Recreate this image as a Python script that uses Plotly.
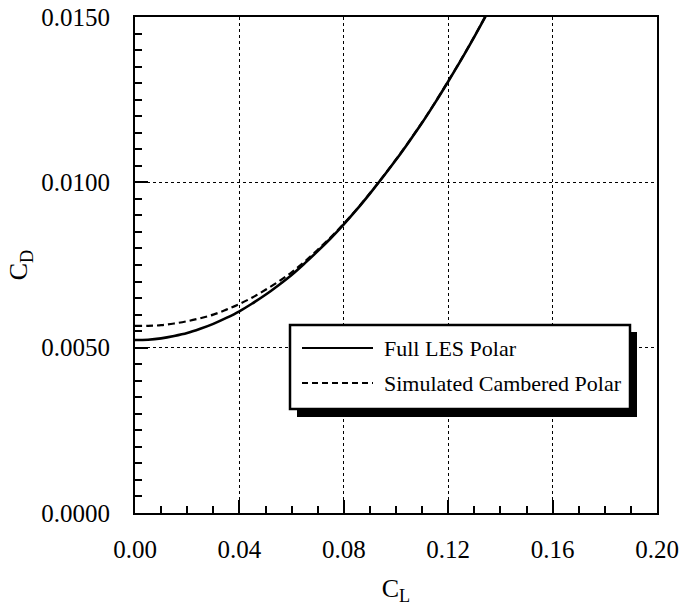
import plotly.graph_objects as go

# ---- data ----
cl_full = [0.000, 0.005, 0.010, 0.015, 0.020, 0.025, 0.030, 0.035, 0.040, 0.045, 0.050, 0.055,
           0.060, 0.065, 0.070, 0.075, 0.080, 0.085, 0.090, 0.095, 0.100, 0.105, 0.110, 0.115,
           0.120, 0.125, 0.130, 0.135]
cd_full = [0.00523, 0.00524, 0.00528, 0.00535, 0.00544, 0.00557, 0.00572, 0.00590, 0.00610,
           0.00634, 0.00660, 0.00689, 0.00720, 0.00755, 0.00792, 0.00831, 0.00873, 0.00918,
           0.00966, 0.01016, 0.01068, 0.01123, 0.01180, 0.01241, 0.01305, 0.01371, 0.01440,
           0.01512]

cl_sim = [0.000, 0.005, 0.010, 0.015, 0.020, 0.025, 0.030, 0.035, 0.040, 0.045, 0.050, 0.055,
          0.060, 0.065, 0.070, 0.075, 0.080, 0.085, 0.090, 0.095, 0.100, 0.105, 0.110, 0.115,
          0.120, 0.125, 0.130, 0.135]
cd_sim = [0.00566, 0.00566, 0.00568, 0.00573, 0.00580, 0.00589, 0.00600, 0.00615, 0.00632,
          0.00652, 0.00675, 0.00700, 0.00728, 0.00760, 0.00796, 0.00834, 0.00875, 0.00919,
          0.00967, 0.01017, 0.01069, 0.01124, 0.01181, 0.01242, 0.01306, 0.01372, 0.01441,
          0.01513]

x_ticks = [0.00, 0.04, 0.08, 0.12, 0.16, 0.20]
x_labels = ["0.00", "0.04", "0.08", "0.12", "0.16", "0.20"]
y_ticks = [0.0, 0.005, 0.010, 0.015]
y_labels = ["0.0000", "0.0050", "0.0100", "0.0150"]

names = ["Full LES Polar", "Simulated Cambered Polar"]

FONT = "Liberation Serif, Times New Roman, serif"

W, H = 684, 606
L, R, T, B = 135, 27, 17, 93
PW, PH = W - L - R, H - T - B


def px(xp):
    return (xp - L) / PW


def py(yp):
    return (H - B - yp) / PH


fig = go.Figure()
fig.add_trace(go.Scatter(x=cl_full, y=cd_full, mode="lines", name=names[0],
                         line=dict(color="black", width=2.6, shape="spline"), showlegend=False))
fig.add_trace(go.Scatter(x=cl_sim, y=cd_sim, mode="lines", name=names[1],
                         line=dict(color="black", width=2.2, dash="7px,4px", shape="spline"),
                         showlegend=False))

axis_common = dict(
    showline=True, linecolor="black", linewidth=2, mirror=True,
    ticks="inside", tickcolor="black", tickwidth=1.5, ticklen=13,
    showgrid=True, gridcolor="black", gridwidth=1.3, griddash="dot",
    zeroline=False,
    tickfont=dict(family=FONT, size=25, color="black"),
)

fig.update_xaxes(
    range=[0, 0.2], tickvals=x_ticks, ticktext=x_labels,
    minor=dict(dtick=0.01, ticks="inside", ticklen=7, tickcolor="black", tickwidth=1.5, showgrid=False),
    title=dict(text="C<sub>L</sub>", font=dict(family=FONT, size=26, color="black"), standoff=25),
    ticklabelstandoff=13,
    **axis_common,
)
fig.update_yaxes(
    range=[0, 0.015], tickvals=y_ticks, ticktext=y_labels,
    minor=dict(dtick=0.0005, ticks="inside", ticklen=7, tickcolor="black", tickwidth=1.5, showgrid=False),
    title=dict(text="C<sub>D</sub>", font=dict(family=FONT, size=26, color="black"), standoff=6),
    ticklabelstandoff=18,
    **axis_common,
)

# custom legend box with drop shadow
bx0, by0, bx1, by1 = 290, 325, 630, 409
shapes = [
    dict(type="rect", xref="paper", yref="paper", x0=px(bx0 + 7), x1=px(bx1 + 7), y0=py(by1 + 8), y1=py(by0 + 7),
         fillcolor="black", line=dict(width=0), layer="above"),
    dict(type="rect", xref="paper", yref="paper", x0=px(bx0), x1=px(bx1), y0=py(by1), y1=py(by0),
         fillcolor="white", line=dict(color="black", width=2.5), layer="above"),
    dict(type="line", xref="paper", yref="paper", x0=px(302), x1=px(373), y0=py(348), y1=py(348),
         line=dict(color="black", width=2), layer="above"),
    dict(type="line", xref="paper", yref="paper", x0=px(302), x1=px(373), y0=py(383), y1=py(383),
         line=dict(color="black", width=2, dash="6px,4px"), layer="above"),
]
annotations = [
    dict(xref="paper", yref="paper", x=px(382), y=py(348), text=names[0], showarrow=False,
         xanchor="left", yanchor="middle", font=dict(family=FONT, size=22, color="black")),
    dict(xref="paper", yref="paper", x=px(382), y=py(383), text=names[1], showarrow=False,
         xanchor="left", yanchor="middle", font=dict(family=FONT, size=22, color="black")),
]

fig.update_layout(
    width=W, height=H,
    margin=dict(l=L, r=R, t=T, b=B, autoexpand=False),
    paper_bgcolor="white", plot_bgcolor="white",
    shapes=shapes, annotations=annotations,
    showlegend=False,
    font=dict(family=FONT, color="black"),
)

fig.write_html("out.html")
